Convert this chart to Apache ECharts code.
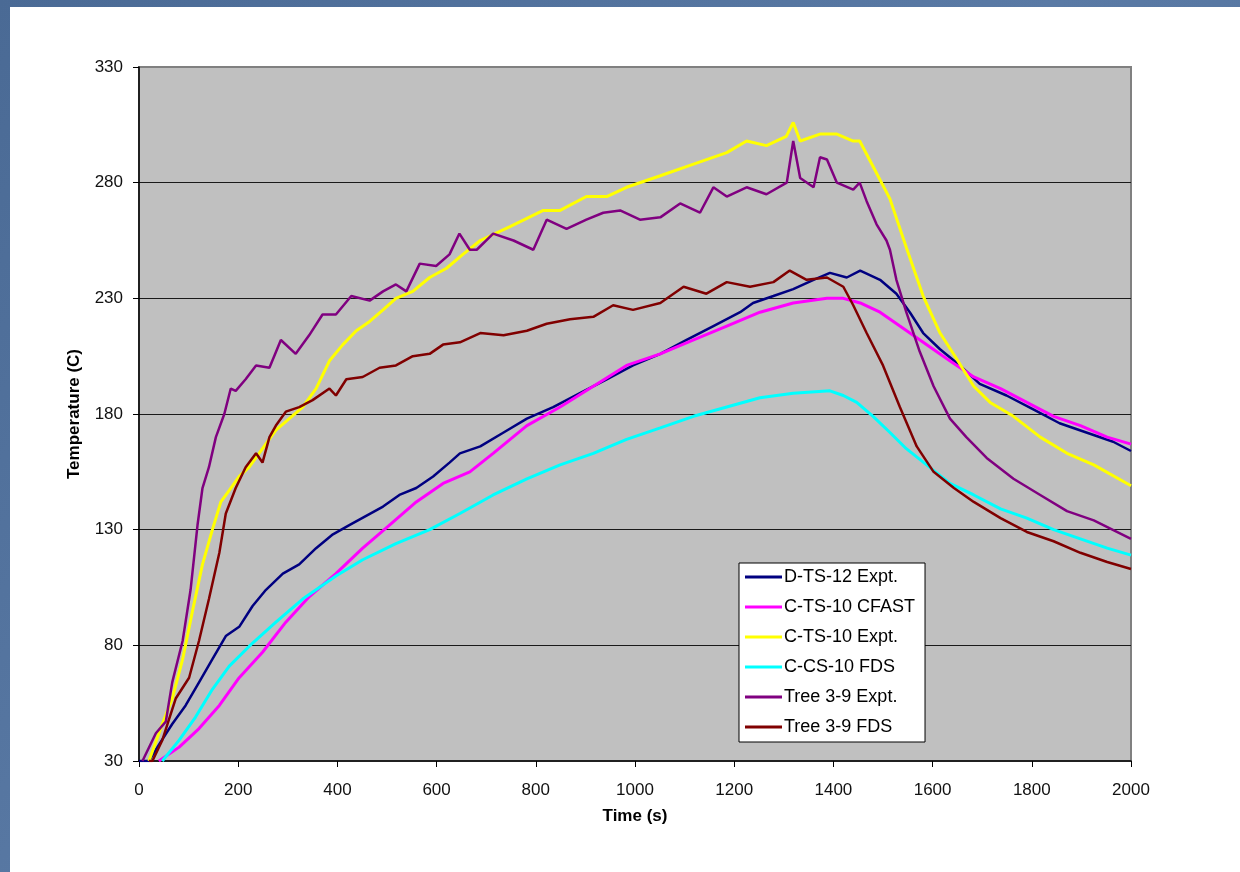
<!DOCTYPE html>
<html>
<head>
<meta charset="utf-8">
<title>Temperature vs Time</title>
<script src="https://cdn.jsdelivr.net/npm/echarts@6/dist/echarts.min.js"></script>
<style>
  html, body { margin: 0; padding: 0; }
  body { width: 1240px; height: 872px; position: relative; overflow: hidden;
         background: linear-gradient(135deg, #4a6a95 0%, #5a7aa5 50%, #4d6d98 100%); }
  #panel { position: absolute; left: 10px; top: 7px; width: 1230px; height: 865px; background: #fff; }
  #chart { position: absolute; left: 0; top: 0; width: 1240px; height: 872px; }
</style>
</head>
<body>
<div id="panel"></div>
<div id="chart"></div>
<script>
// [time (s), temperature (C)]
var dts12Expt = [[0,30],[20,30],[40,37],[67,46],[94,54],[121,64],[148,74],[175,84],[202,88],[229,97],[256,104],[290,111],[323,115],[357,122],[391,128],[424,132],[458,136],[492,140],[525,145],[559,148],[593,153],[626,159],[647,163],[688,166],[735,172],[782,178],[835,183],[889,189],[943,195],[996,201],[1051,206],[1104,212],[1158,218],[1212,224],[1238,228],[1279,231],[1319,234],[1360,238],[1393,241],[1427,239],[1454,242],[1494,238],[1527,232],[1554,224],[1581,215],[1615,208],[1655,201],[1695,193],[1749,188],[1803,182],[1856,176],[1910,172],[1964,168],[2000,164]];
var cts10Cfast = [[40,30],[81,36],[121,44],[162,54],[202,66],[249,77],[296,90],[343,101],[397,111],[451,122],[505,132],[559,142],[613,150],[667,155],[714,163],[782,175],[849,183],[916,192],[983,201],[1051,206],[1118,212],[1185,218],[1252,224],[1319,228],[1387,230],[1420,230],[1454,228],[1494,224],[1534,218],[1581,211],[1628,204],[1683,196],[1737,191],[1790,185],[1844,179],[1898,175],[1952,170],[2000,167]];
var cts10Expt = [[20,30],[47,46],[67,57],[88,74],[108,95],[128,115],[148,130],[165,142],[182,147],[202,153],[222,157],[249,165],[276,173],[303,178],[330,183],[357,191],[384,203],[411,210],[438,216],[465,220],[492,225],[518,230],[552,233],[586,239],[620,243],[653,249],[688,255],[748,261],[815,268],[849,268],[902,274],[943,274],[983,278],[1051,283],[1118,288],[1185,293],[1225,298],[1265,296],[1305,300],[1319,306],[1333,298],[1373,301],[1407,301],[1440,298],[1453,298],[1480,287],[1514,273],[1547,252],[1581,231],[1615,215],[1648,204],[1683,192],[1716,185],[1763,179],[1817,170],[1871,163],[1925,158],[2000,149]];
var ccs10Fds = [[47,30],[81,39],[114,49],[148,61],[182,71],[229,81],[276,90],[330,100],[397,110],[451,117],[518,124],[586,130],[647,137],[714,145],[782,152],[849,158],[916,163],[983,169],[1051,174],[1118,179],[1185,183],[1252,187],[1319,189],[1393,190],[1420,188],[1447,185],[1480,179],[1514,172],[1547,165],[1588,158],[1635,150],[1683,145],[1737,139],[1790,135],[1844,130],[1898,126],[1952,122],[2000,119]];
var tree39Expt = [[7,30],[34,42],[54,47],[67,64],[88,82],[104,104],[118,132],[128,148],[141,157],[155,170],[172,180],[185,191],[195,190],[215,195],[236,201],[263,200],[286,212],[316,206],[343,214],[370,223],[397,223],[428,231],[465,229],[492,233],[518,236],[539,233],[566,245],[599,244],[626,249],[646,258],[667,251],[681,251],[714,258],[755,255],[795,251],[822,264],[862,260],[902,264],[936,267],[970,268],[1010,264],[1051,265],[1091,271],[1131,267],[1158,278],[1185,274],[1225,278],[1265,275],[1306,280],[1319,298],[1333,282],[1360,278],[1373,291],[1387,290],[1407,280],[1440,277],[1453,280],[1467,272],[1487,262],[1507,255],[1514,251],[1527,238],[1547,224],[1574,207],[1602,192],[1635,178],[1668,170],[1709,161],[1763,152],[1817,145],[1871,138],[1925,134],[2000,126]];
var tree39Fds = [[20,30],[27,30],[47,39],[74,57],[101,66],[121,82],[141,100],[162,120],[175,137],[195,148],[215,157],[236,163],[249,159],[263,170],[276,175],[296,181],[323,183],[350,186],[384,191],[397,188],[418,195],[451,196],[485,200],[518,201],[552,205],[586,206],[613,210],[647,211],[688,215],[735,214],[782,216],[822,219],[869,221],[916,222],[956,227],[996,225],[1051,228],[1098,235],[1144,232],[1185,237],[1232,235],[1279,237],[1312,242],[1346,238],[1387,239],[1420,235],[1440,227],[1467,215],[1500,201],[1534,183],[1568,166],[1602,155],[1643,148],[1683,142],[1737,135],[1790,129],[1844,125],[1898,120],[1952,116],[2000,113]];

var seriesNames = ['D-TS-12 Expt.', 'C-TS-10 CFAST', 'C-TS-10 Expt.', 'C-CS-10 FDS', 'Tree 3-9 Expt.', 'Tree 3-9 FDS'];
var seriesData = [dts12Expt, cts10Cfast, cts10Expt, ccs10Fds, tree39Expt, tree39Fds];
var seriesColors = ['#000080', '#ff00ff', '#ffff00', '#00ffff', '#800080', '#800000'];
var seriesWidths = [2.5, 3, 3, 3, 2.5, 2.5];

var font = "'Liberation Sans', Arial, sans-serif";

var chart = echarts.init(document.getElementById('chart'));

var series = seriesNames.map(function (name, i) {
  return {
    name: name,
    type: 'line',
    data: seriesData[i],
    showSymbol: false,
    symbol: 'none',
    color: seriesColors[i],
    lineStyle: { color: seriesColors[i], width: seriesWidths[i] }
  };
});

chart.setOption({
  animation: false,
  backgroundColor: 'transparent',
  grid: {
    left: 139, top: 67, right: 109, bottom: 111,
    show: true,
    backgroundColor: '#c0c0c0',
    borderColor: '#808080',
    borderWidth: 2
  },
  legend: {
    orient: 'vertical',
    left: 739,
    top: 563,
    icon: 'rect',
    itemWidth: 37,
    itemHeight: 3,
    itemGap: 10,
    padding: [4, 10, 5, 6],
    backgroundColor: '#fff',
    borderColor: '#000',
    borderWidth: 1,
    borderRadius: 0,
    textStyle: { fontFamily: font, fontSize: 18, color: '#000', lineHeight: 20, padding: [0, 0, 0, -3] },
    data: seriesNames
  },
  xAxis: {
    type: 'value',
    min: 0, max: 2000, interval: 200,
    name: 'Time (s)',
    nameLocation: 'middle',
    nameGap: 47,
    nameTextStyle: { fontFamily: font, fontSize: 17, fontWeight: 'bold', color: '#000' },
    axisLine: { show: true, lineStyle: { color: '#000', width: 1.5 } },
    axisTick: { show: true, inside: false, length: 6, lineStyle: { color: '#000' } },
    axisLabel: { fontFamily: font, fontSize: 17, color: '#111', margin: 21,
                 formatter: function (v) { return String(v); } },
    splitLine: { show: false }
  },
  yAxis: {
    type: 'value',
    min: 30, max: 330, interval: 50,
    name: 'Temperature (C)',
    nameLocation: 'middle',
    nameGap: 56,
    nameRotate: 90,
    nameTextStyle: { fontFamily: font, fontSize: 17, fontWeight: 'bold', color: '#000' },
    axisLine: { show: true, lineStyle: { color: '#000', width: 1.5 } },
    axisTick: { show: true, inside: false, length: 6, lineStyle: { color: '#000' } },
    axisLabel: { fontFamily: font, fontSize: 17, color: '#111', margin: 16,
                 formatter: function (v) { return String(v); } },
    splitLine: { show: true, showMinLine: false, showMaxLine: false, lineStyle: { color: '#1a1a1a', width: 1 } }
  },
  series: series
});
</script>
</body>
</html>
